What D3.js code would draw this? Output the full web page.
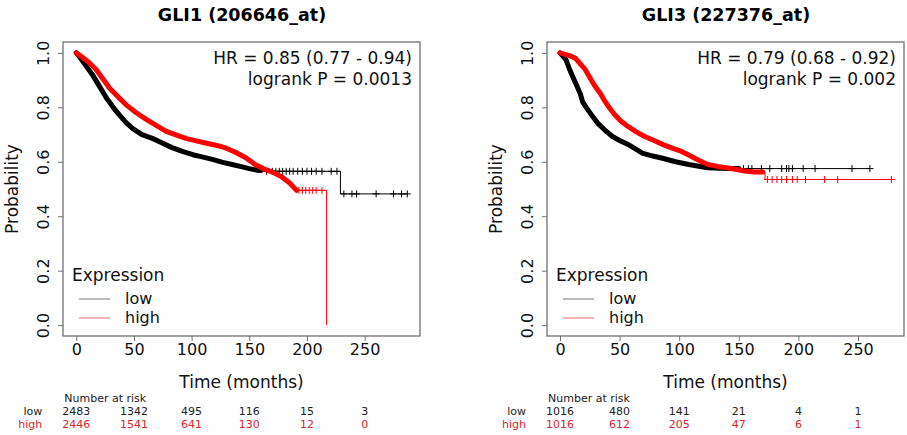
<!DOCTYPE html>
<html lang="en">
  <head>
    <meta charset="utf-8" />
    <title>GLI1 / GLI3 KM plots</title>
    <script src="https://d3js.org/d3.v7.min.js"></script>
    <style>
      body { margin: 0; background: #fff; }
      text { font-family: "DejaVu Sans", sans-serif; }
    </style>
  </head>
  <body>
    <script type="text/javascript">
      // values (months, survival probability)
      const xTicks = [0, 50, 100, 150, 200, 250];
      const yTicks = [0, 0.2, 0.4, 0.6, 0.8, 1.0];

      // GLI1 (206646_at)
      const gli1LowT = [0, 3, 8, 14, 20, 26, 32, 37, 43, 49, 57, 66, 75, 83, 92, 101, 110, 118, 127, 135, 143, 150, 158, 165, 229, 287];
      const gli1LowS = [1.0, 0.985, 0.955, 0.92, 0.878, 0.835, 0.8, 0.774, 0.745, 0.722, 0.7, 0.686, 0.668, 0.652, 0.638, 0.626, 0.617, 0.609, 0.598, 0.59, 0.582, 0.575, 0.568, 0.565, 0.482, 0.482];
      const gli1HighT = [0, 5, 11, 17, 23, 29, 36, 43, 52, 61, 70, 78, 87, 95, 104, 113, 122, 130, 138, 147, 155, 162, 170, 178, 185, 191, 217];
      const gli1HighS = [1.0, 0.985, 0.965, 0.94, 0.905, 0.87, 0.84, 0.81, 0.78, 0.755, 0.732, 0.712, 0.698, 0.686, 0.677, 0.668, 0.66, 0.65, 0.635, 0.615, 0.59, 0.575, 0.562, 0.545, 0.522, 0.495, 0];
      const gli1LowCensor = [165, 170, 173, 176, 179, 182, 185, 188, 192, 196, 200, 204, 208, 213, 221, 226, 232, 239, 243, 260, 275, 282, 287];
      const gli1HighCensor = [193, 196, 199, 202, 205, 208, 213];
      const gli1RiskLow = [2483, 1342, 495, 116, 15, 3];
      const gli1RiskHigh = [2446, 1541, 641, 130, 12, 0];

      // GLI3 (227376_at)
      const gli3LowT = [0, 5, 8, 11, 14, 17, 19, 22, 26, 32, 38, 44, 50, 57, 63, 69, 77, 86, 97, 108, 124, 140, 260];
      const gli3LowS = [1.0, 0.975, 0.94, 0.91, 0.88, 0.85, 0.82, 0.8, 0.775, 0.74, 0.715, 0.693, 0.678, 0.664, 0.648, 0.632, 0.622, 0.613, 0.6, 0.59, 0.578, 0.575, 0.575];
      const gli3HighT = [0, 8, 13, 17, 21, 25, 29, 34, 38, 42, 46, 51, 57, 64, 71, 79, 86, 94, 102, 108, 113, 119, 124, 132, 141, 155, 163, 172, 279];
      const gli3HighS = [1.0, 0.99, 0.98, 0.96, 0.94, 0.91, 0.88, 0.85, 0.82, 0.795, 0.773, 0.75, 0.73, 0.71, 0.693, 0.678, 0.664, 0.65, 0.638, 0.625, 0.613, 0.6, 0.59, 0.583, 0.577, 0.566, 0.562, 0.535, 0.535];
      const gli3LowCensor = [154, 158, 161, 169, 176, 186, 190, 192, 195, 204, 214, 245, 260];
      const gli3HighCensor = [174, 178, 182, 186, 190, 195, 199, 206, 222, 233, 278];
      const gli3RiskLow = [1016, 480, 141, 21, 4, 1];
      const gli3RiskHigh = [1016, 612, 205, 47, 6, 1];

      const w = 907;
      const h = 435;
      const red = "#ff0000";
      const riskRed = "#d8282e";

      let svg = d3.select("body").append("svg").attr("width", w).attr("height", h);

      function drawPanel(p) {
        let g = svg.append("g");
        let xScale = d3.scaleLinear().domain(p.xDomain).range([p.left, p.right]);
        let yScale = d3.scaleLinear().domain([-0.04, 1.04]).range([336, 42]);
        let stepLine = d3.line().curve(d3.curveStepAfter).x((d) => xScale(d[0])).y((d) => yScale(d[1]));
        let smoothLine = d3.line().x((d) => xScale(d[0])).y((d) => yScale(d[1]));

        // title
        g.append("text")
          .attr("x", p.titleX).attr("y", 21)
          .attr("text-anchor", "middle")
          .attr("font-size", "17.5px").attr("font-weight", "bold")
          .text(p.title);

        // curves: a thick band where censor marks crowd, then the thin step line
        let curves = [
          { t: p.lowT, s: p.lowS, col: "#000", dense: p.lowDense, cens: p.lowCensor },
          { t: p.highT, s: p.highS, col: red, dense: p.highDense, cens: p.highCensor },
        ];
        curves.forEach((c) => {
          let pts = c.t.map((t, i) => [t, c.s[i]]);
          let stepVal = (t) => {
            let v = c.s[0];
            c.t.forEach((tt, i) => { if (tt <= t) v = c.s[i]; });
            return v;
          };
          let band = pts.filter((d) => d[0] < c.dense);
          band.push([c.dense, stepVal(c.dense)]);
          let tail = [[c.dense, stepVal(c.dense)]].concat(pts.filter((d) => d[0] > c.dense));
          g.append("path").attr("d", smoothLine(band))
            .attr("fill", "none").attr("stroke", c.col)
            .attr("stroke-width", 5).attr("stroke-linejoin", "round").attr("stroke-linecap", "round");
          g.append("path").attr("d", stepLine(tail))
            .attr("fill", "none").attr("stroke", c.col).attr("stroke-width", 1);
          // sparse censor marks
          c.cens.forEach((t) => {
            let cx = xScale(t), cy = yScale(stepVal(t));
            g.append("path")
              .attr("d", `M${cx - 3.5},${cy}H${cx + 3.5}M${cx},${cy - 3.5}V${cy + 3.5}`)
              .attr("stroke", c.col).attr("stroke-width", 1);
          });
        });

        // box
        g.append("rect")
          .attr("x", p.left).attr("y", 42)
          .attr("width", p.right - p.left).attr("height", 294)
          .attr("fill", "none").attr("stroke", "#707070").attr("stroke-width", 1.3);

        // x axis
        let xAxis = d3.axisBottom(xScale).tickValues(xTicks).tickSize(5).tickPadding(3).tickFormat(d3.format("d"));
        let xg = g.append("g").attr("transform", "translate(0,336)").call(xAxis);
        xg.select(".domain").remove();
        xg.selectAll("line").attr("stroke", "#707070");
        xg.selectAll("text").attr("font-size", "16px").attr("fill", "#111").attr("font-family", "DejaVu Sans");

        // y axis, labels turned like R's default
        let yAxis = d3.axisLeft(yScale).tickValues(yTicks).tickSize(5).tickFormat(d3.format(".1f"));
        let yg = g.append("g").attr("transform", `translate(${p.left},0)`).call(yAxis);
        yg.select(".domain").remove();
        yg.selectAll("line").attr("stroke", "#707070");
        yg.selectAll("text")
          .attr("font-size", "16px").attr("fill", "#111").attr("font-family", "DejaVu Sans")
          .attr("x", null)
          .attr("text-anchor", "middle")
          .attr("transform", "translate(-20,0) rotate(-90)")
          .attr("dy", "0.35em");

        g.append("text")
          .attr("transform", `translate(${p.left - 45},189) rotate(-90)`)
          .attr("text-anchor", "middle").attr("font-size", "17px").attr("fill", "#111")
          .text("Probability");

        g.append("text")
          .attr("x", (p.left + p.right) / 2).attr("y", 388)
          .attr("text-anchor", "middle").attr("font-size", "17px").attr("fill", "#111")
          .text("Time (months)");

        // HR text
        g.append("text").attr("x", p.right - 8).attr("y", 64)
          .attr("text-anchor", "end").attr("font-size", "17px").attr("fill", "#111").text(p.hr);
        g.append("text").attr("x", p.right - 8).attr("y", 85)
          .attr("text-anchor", "end").attr("font-size", "17px").attr("fill", "#111").text(p.logrank);

        // legend
        let lx = p.left + 9;
        g.append("text").attr("x", lx).attr("y", 281).attr("font-size", "17px").attr("fill", "#111").text("Expression");
        [["low", "#8a8a8a", 299, 304], ["high", "#f08080", 318, 323]].forEach((d) => {
          g.append("line").attr("x1", lx + 7).attr("x2", lx + 38).attr("y1", d[2]).attr("y2", d[2])
            .attr("stroke", d[1]).attr("stroke-width", 1.2);
          g.append("text").attr("x", lx + 53).attr("y", d[3]).attr("font-size", "16px").attr("fill", "#111").text(d[0]);
        });

        // number at risk
        g.append("text").attr("x", xScale(0) + 29).attr("y", 402)
          .attr("text-anchor", "middle").attr("font-size", "11px").attr("fill", "#222").text("Number at risk");
        g.append("text").attr("x", xScale(0) - 34).attr("y", 415)
          .attr("text-anchor", "end").attr("font-size", "11px").attr("fill", "#222").text("low");
        g.append("text").attr("x", xScale(0) - 34).attr("y", 428)
          .attr("text-anchor", "end").attr("font-size", "11px").attr("fill", riskRed).text("high");
        g.selectAll("text.rl").data(p.riskLow).enter().append("text").attr("class", "rl")
          .attr("x", (d, i) => xScale(xTicks[i])).attr("y", 415)
          .attr("text-anchor", "middle").attr("font-size", "11px").attr("fill", "#222").text((d) => d);
        g.selectAll("text.rh").data(p.riskHigh).enter().append("text").attr("class", "rh")
          .attr("x", (d, i) => xScale(xTicks[i])).attr("y", 428)
          .attr("text-anchor", "middle").attr("font-size", "11px").attr("fill", riskRed).text((d) => d);
      }

      drawPanel({
        title: "GLI1 (206646_at)", titleX: 242,
        hr: "HR = 0.85 (0.77 - 0.94)", logrank: "logrank P = 0.0013",
        left: 63, right: 420, xDomain: [-11.5, 298],
        lowT: gli1LowT, lowS: gli1LowS, highT: gli1HighT, highS: gli1HighS,
        lowDense: 160, highDense: 191,
        lowCensor: gli1LowCensor, highCensor: gli1HighCensor,
        riskLow: gli1RiskLow, riskHigh: gli1RiskHigh,
      });

      drawPanel({
        title: "GLI3 (227376_at)", titleX: 726,
        hr: "HR = 0.79 (0.68 - 0.92)", logrank: "logrank P = 0.002",
        left: 547, right: 904, xDomain: [-10.9, 288.6],
        lowT: gli3LowT, lowS: gli3LowS, highT: gli3HighT, highS: gli3HighS,
        lowDense: 150, highDense: 170,
        lowCensor: gli3LowCensor, highCensor: gli3HighCensor,
        riskLow: gli3RiskLow, riskHigh: gli3RiskHigh,
      });
    </script>
  </body>
</html>
